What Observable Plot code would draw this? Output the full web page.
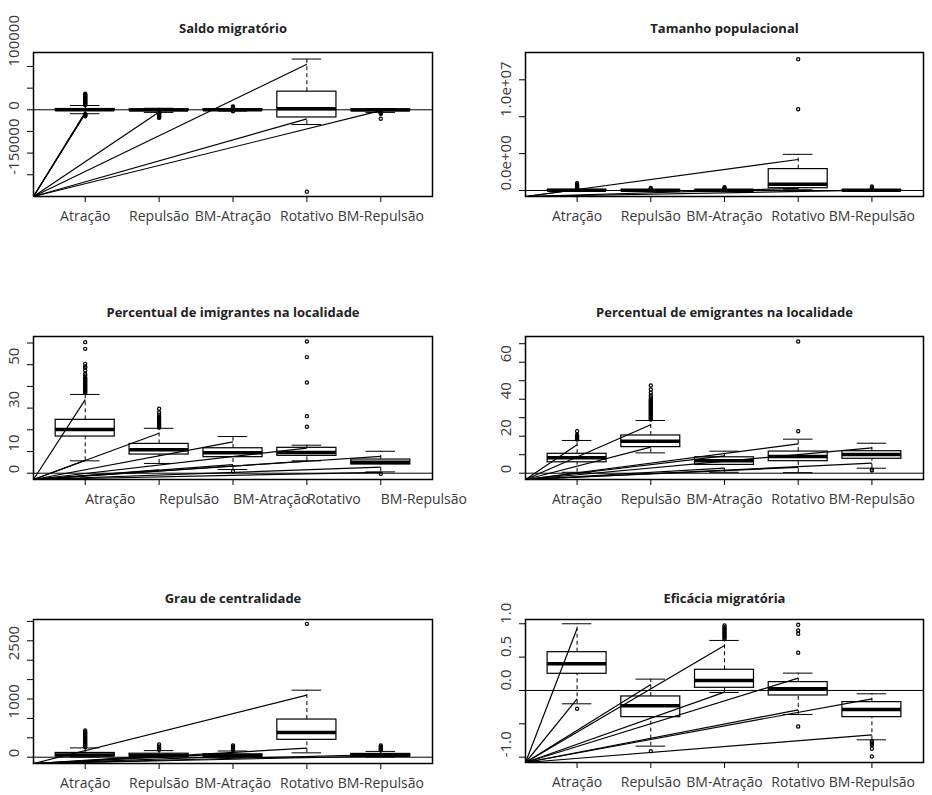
<!DOCTYPE html>
<html><head><meta charset="utf-8">
<script src="https://cdn.jsdelivr.net/npm/d3@7"></script>
<script src="https://cdn.jsdelivr.net/npm/@observablehq/plot@0.6"></script>
<style>
body{margin:0;background:#fff;}
#page{position:relative;width:932px;height:795px;overflow:hidden;background:#fff;}
.panel{position:absolute;}
.panel svg{overflow:visible;}
</style></head><body><div id="page"></div>
<script>
// ---------- DATA ----------
const categories = ["Atração", "Repulsão", "BM-Atração", "Rotativo", "BM-Repulsão"];
const titles = ["Saldo migratório", "Tamanho populacional", "Percentual de imigrantes na localidade",
  "Percentual de emigrantes na localidade", "Grau de centralidade", "Eficácia migratória"];

// box stats per category: [lower whisker, q1, median, q3, upper whisker]
const saldoStats = [[-9000, -1800, 0, 1800, 9900], [-6000, -1500, -300, 1000, 3500], [-3000, -1200, 0, 1200, 3000],
  [-34000, -17700, 2300, 41900, 117200], [-6000, -1200, -200, 800, 3000]];
const saldoOutliers = [
  [11000, 12500, 14000, 15500, 17000, 18500, 20000, 21500, 23000, 24500, 26000, 27500, 29000, 30500, 32000, 33500, 35000, 37000,
   -10000, -11000, -12000, -13000, -14000, -14800],
  [-4000, -5500, -7000, -8500, -10000, -11500, -13000, -14500, -16000, -17500, -18500],
  [4000, 5000, 6000, 7600, -2500, -3200],
  [-189000],
  [-4000, -5500, -7000, -8000, -9200, -20800]];
const saldoLines = [[0, -9000], [0, -7500], [0, -6000], [1, -5000], [3, 105000], [3, -21000], [4, -2000]];
const saldoTicks = [-150000, -100000, -50000, 0, 50000, 100000];
const saldoLabelTicks = [-150000, 0, 100000];
const saldoLabels = ["-150000", "0", "100000"];

const tamanhoStats = [[5000, 15000, 30000, 70000, 150000], [3000, 10000, 20000, 40000, 80000], [3000, 10000, 20000, 45000, 90000],
  [100000, 310000, 850000, 2900000, 4900000], [3000, 10000, 20000, 45000, 90000]];
const tamanhoOutliers = [
  [250000, 350000, 450000, 550000, 650000, 750000, 850000, 1000000],
  [150000, 250000, 350000],
  [180000, 300000, 450000],
  [17800000, 11000000],
  [200000, 350000, 550000]];
const tamanhoLines = [[0, 100000], [3, 4200000], [3, 300000], [4, 50000]];
const tamanhoTicks = [0, 5000000, 10000000, 15000000];
const tamanhoLabelTicks = [0, 10000000];
const tamanhoLabels = ["0.0e+00", "1.0e+07"];

const imigStats = [[5.7, 16.9, 20.1, 24.6, 36.3], [4.5, 8.6, 10.8, 13.5, 20.7], [1.7, 7.4, 9.4, 11.5, 16.9],
  [5.7, 8.0, 9.5, 11.7, 12.9], [0.6, 4.0, 5.1, 6.3, 10.1]];
const imigOutliers = [
  [37, 37.5, 38, 38.5, 39, 39.5, 40, 40.5, 41, 41.5, 42, 42.5, 43, 43.5, 44, 45, 45.8, 47.3, 48.6, 49.2, 50.4, 57.3, 60.4],
  [21, 21.5, 22, 22.5, 23, 23.5, 24, 24.5, 25, 25.5, 26, 27, 28, 29.7],
  [0.9],
  [60.7, 53.5, 41.8, 26.3, 21.4],
  [-0.3]];
const imigLines = [[0, 33.9], [0, 5.9], [1, 18.4], [2, 14.4], [3, 11.6], [4, 7.8], [4, 2.8], [4, 0.4], [3, 5.6], [2, 4.0], [1, 1.5]];
const imigTicks = [0, 10, 20, 30, 40, 50, 60];
const imigLabelTicks = [0, 10, 30, 50];
const imigLabels = ["0", "10", "30", "50"];

const emigStats = [[0.5, 5.9, 8.3, 10.5, 17.7], [11.0, 14.1, 17.3, 20.4, 28.5], [0.5, 4.5, 6.7, 8.6, 11.9],
  [0.3, 6.5, 9.0, 11.7, 18.4], [2.7, 7.8, 10.1, 11.9, 16.2]];
const emigOutliers = [
  [18.2, 18.7, 19.2, 19.7, 20.2, 20.7, 22.7],
  [29, 29.5, 30, 30.5, 31, 31.5, 32, 32.5, 33, 33.5, 34, 34.5, 35, 35.5, 36, 36.5, 37, 37.5, 38, 38.5, 39, 39.5, 40, 41, 42, 43.5, 45.3, 47.4],
  [],
  [22.7, 71.2],
  [1.5, 1.9]];
const emigLines = [[0, 15.4], [1, 26.2], [1, 14.1], [2, 9.4], [3, 15.9], [4, 13.7], [4, 5.4], [3, 3.2], [2, 2.7]];
const emigTicks = [0, 10, 20, 30, 40, 50, 60, 70];
const emigLabelTicks = [0, 20, 40, 60];
const emigLabels = ["0", "20", "40", "60"];

const grauStats = [[5, 25, 55, 110, 240], [3, 20, 45, 90, 170], [2, 15, 35, 75, 160],
  [113, 448, 636, 971, 1727], [5, 25, 50, 85, 150]];
const grauOutliers = [
  [260, 290, 320, 350, 380, 410, 440, 470, 500, 530, 560, 590, 620, 650, 688],
  [190, 220, 250, 280, 327],
  [180, 210, 240, 270, 301],
  [3437],
  [180, 210, 240, 270, 301]];
const grauLines = [[3, 1598], [3, 232], [2, 95], [1, 40], [4, 30], [4, 70], [2, 20]];
const grauTicks = [0, 500, 1000, 1500, 2000, 2500, 3000, 3500];
const grauLabelTicks = [0, 1000, 2500];
const grauLabels = ["0", "1000", "2500"];

const eficStats = [[-0.2, 0.25, 0.40, 0.574, 1.0], [-0.835, -0.40, -0.23, -0.09, 0.17], [-0.03, 0.04, 0.15, 0.31, 0.75],
  [-0.36, -0.075, 0.025, 0.125, 0.26], [-0.74, -0.40, -0.285, -0.175, -0.05]];
const eficOutliers = [
  [-0.275],
  [-0.91],
  [0.77, 0.79, 0.81, 0.83, 0.85, 0.87, 0.89, 0.91, 0.93, 0.95, 0.975],
  [0.985, 0.9, 0.85, 0.565, -0.54],
  [-0.76, -0.78, -0.8, -0.82, -0.875, -0.99]];
const eficLines = [[0, 0.93], [0, -0.125], [1, 0.09], [2, 0.675], [2, -0.025], [3, 0.185], [3, -0.29], [4, -0.125], [4, -0.665]];
const eficTicks = [-1, -0.5, 0, 0.5, 1];
const eficLabelTicks = [-1, 0, 0.5, 1];
const eficLabels = ["-1.0", "0.0", "0.5", "1.0"];

// ---------- LAYOUT ----------
const xDomain = [0.3, 5.7];
const panels = [
  {title: titles[0], stats: saldoStats, outliers: saldoOutliers, lines: saldoLines, ticks: saldoTicks, labelTicks: saldoLabelTicks, labels: saldoLabels,
   yDomain: [-200200, 132300], frame: [33, 52, 432, 196], svgTop: 0, svgH: 250, titleGap: 29, xAnchor: "middle"},
  {title: titles[1], stats: tamanhoStats, outliers: tamanhoOutliers, lines: tamanhoLines, ticks: tamanhoTicks, labelTicks: tamanhoLabelTicks, labels: tamanhoLabels,
   yDomain: [-813000, 18700000], frame: [525, 52, 923, 196], svgTop: 0, svgH: 250, titleGap: 29, xAnchor: "middle"},
  {title: titles[2], stats: imigStats, outliers: imigOutliers, lines: imigLines, ticks: imigTicks, labelTicks: imigLabelTicks, labels: imigLabels,
   yDomain: [-2.9, 63.0], frame: [33, 336, 432, 479], svgTop: 270, svgH: 250, titleGap: 29, xAnchor: "start"},
  {title: titles[3], stats: emigStats, outliers: emigOutliers, lines: emigLines, ticks: emigTicks, labelTicks: emigLabelTicks, labels: emigLabels,
   yDomain: [-3.4, 73.9], frame: [525, 336, 923, 479], svgTop: 270, svgH: 250, titleGap: 29, xAnchor: "middle"},
  {title: titles[4], stats: grauStats, outliers: grauOutliers, lines: grauLines, ticks: grauTicks, labelTicks: grauLabelTicks, labels: grauLabels,
   yDomain: [-162, 3549], frame: [33, 619, 432, 763], svgTop: 540, svgH: 255, titleGap: 26, xAnchor: "middle"},
  {title: titles[5], stats: eficStats, outliers: eficOutliers, lines: eficLines, ticks: eficTicks, labelTicks: eficLabelTicks, labels: eficLabels,
   yDomain: [-1.08, 1.064], frame: [525, 619, 923, 762], svgTop: 540, svgH: 255, titleGap: 26, xAnchor: "middle"}
];

const page = document.getElementById("page");
const labelFont = "'Open Sans', 'DejaVu Sans', sans-serif";
const titleFont = "'Open Sans', Lato, sans-serif";

for (const p of panels) {
  const svgLeft = p.frame[0] < 466 ? 0 : 466;
  const W = 466;
  const outl = p.outliers.flatMap((arr, i) => arr.map(v => ({i, v})));
  const yMin = p.yDomain[0];
  const chart = Plot.plot({
    width: W, height: p.svgH,
    marginLeft: p.frame[0] - svgLeft, marginRight: svgLeft + W - p.frame[2],
    marginTop: p.frame[1] - p.svgTop, marginBottom: p.svgTop + p.svgH - p.frame[3],
    x: {type: "linear", domain: xDomain},
    y: {type: "linear", domain: p.yDomain},
    style: {fontFamily: labelFont, fontSize: "14px", color: "#000", background: "transparent", overflow: "visible"},
    marks: [
      // whiskers
      Plot.ruleX(p.stats, {x: (d, i) => i + 1, y1: d => d[3], y2: d => d[4], stroke: "black", strokeDasharray: "4,3"}),
      Plot.ruleX(p.stats, {x: (d, i) => i + 1, y1: d => d[0], y2: d => d[1], stroke: "black", strokeDasharray: "4,3"}),
      // staples
      Plot.ruleY(p.stats, {x1: (d, i) => i + 0.8, x2: (d, i) => i + 1.2, y: d => d[4], stroke: "black"}),
      Plot.ruleY(p.stats, {x1: (d, i) => i + 0.8, x2: (d, i) => i + 1.2, y: d => d[0], stroke: "black"}),
      // boxes
      Plot.rect(p.stats, {x1: (d, i) => i + 0.6, x2: (d, i) => i + 1.4, y1: d => d[1], y2: d => d[3], fill: "none", stroke: "black", strokeWidth: 1.2}),
      // medians
      Plot.ruleY(p.stats, {x1: (d, i) => i + 0.6, x2: (d, i) => i + 1.4, y: d => d[2], stroke: "black", strokeWidth: 3.5}),
      // outliers
      Plot.dot(outl, {x: d => d.i + 1, y: d => d.v, r: 1.6, stroke: "black", strokeWidth: 1.2, fill: "none"}),
      // zero line
      Plot.ruleY([0], {stroke: "black", strokeWidth: 1}),
      // lines from the corner
      Plot.link(p.lines, {x1: () => xDomain[0], y1: () => yMin, x2: d => d[0] + 1, y2: d => d[1], stroke: "black", strokeWidth: 1.2}),
      Plot.frame({stroke: "black", strokeWidth: 1.5}),
      // axes
      Plot.axisX({ticks: [1, 2, 3, 4, 5], tickSize: 6, tickFormat: () => "", label: null}),
      Plot.axisY({ticks: p.ticks, tickSize: 6, tickFormat: () => "", label: null}),
      Plot.text(categories, {x: (d, i) => i + 1, frameAnchor: "bottom", dy: 24, text: d => d, textAnchor: p.xAnchor, fontSize: 14, fill: "#3a3a3a"}),
      Plot.text(p.labels, {frameAnchor: "left", y: (d, i) => p.labelTicks[i], text: d => d, rotate: -90, textAnchor: "start", dx: -19, fontSize: 15, fill: "#3a3a3a"}),
      Plot.text([p.title], {frameAnchor: "top", dy: -p.titleGap, text: d => d, fontWeight: "bold", fontSize: 13, fontFamily: titleFont, fill: "#222"})
    ]
  });
  const div = document.createElement("div");
  div.className = "panel";
  div.style.left = svgLeft + "px";
  div.style.top = p.svgTop + "px";
  div.appendChild(chart);
  page.appendChild(div);
}
</script>
</body></html>
